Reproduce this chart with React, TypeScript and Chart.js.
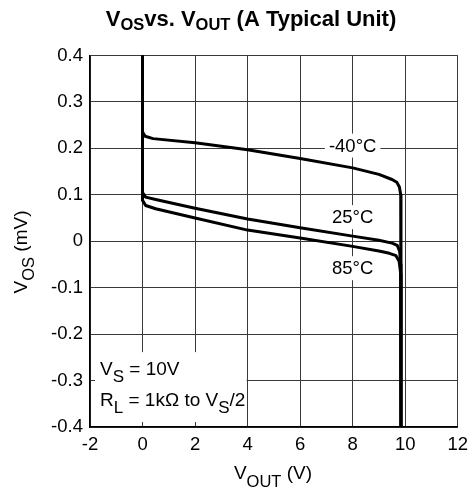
import React, { useEffect, useRef } from "react";
import { Chart, registerables } from "chart.js";

Chart.register(...registerables);

// ---- data ----
const xMin = -2;
const xMax = 12;
const xStep = 2;
const yMin = -0.4;
const yMax = 0.4;
const yStep = 0.1;

const seriesNames = ["-40°C", "25°C", "85°C"];

const vout40 = [0, 0, 0.1, 0.4, 2, 4, 6, 8, 9, 9.5, 9.68, 9.78, 9.83, 9.84];
const vos40 = [0.4, 0.235, 0.226, 0.221, 0.212, 0.197, 0.178, 0.158, 0.144, 0.133, 0.127, 0.117, 0.1, -0.4];

const vout25 = [0, 0, 0.12, 0.5, 2, 4, 6, 8, 9, 9.5, 9.7, 9.79, 9.83, 9.84];
const vos25 = [0.4, 0.105, 0.095, 0.09, 0.071, 0.048, 0.029, 0.011, 0.002, -0.004, -0.009, -0.022, -0.05, -0.4];

const vout85 = [0, 0, 0.12, 0.5, 2, 4, 6, 8, 9, 9.4, 9.65, 9.77, 9.83, 9.84];
const vos85 = [0.4, 0.088, 0.077, 0.07, 0.05, 0.024, 0.007, -0.011, -0.021, -0.026, -0.031, -0.043, -0.07, -0.4];

// label anchor values (data coordinates)
const labelX = [8.0, 8.0, 8.0];
const labelY = [0.206, 0.052, -0.058];

const FONT = "'Liberation Sans', Arial, sans-serif";

type Seg = { t: string; size: number; dy: number; bold?: boolean };

function drawRich(
  ctx: CanvasRenderingContext2D,
  segs: Seg[],
  x: number,
  y: number,
  align: "left" | "center"
) {
  let total = 0;
  const widths = segs.map((s) => {
    ctx.font = `${s.bold ? "bold " : ""}${s.size}px ${FONT}`;
    const w = ctx.measureText(s.t).width;
    total += w;
    return w;
  });
  let cx = align === "center" ? x - total / 2 : x;
  ctx.textBaseline = "alphabetic";
  ctx.textAlign = "left";
  segs.forEach((s, i) => {
    ctx.font = `${s.bold ? "bold " : ""}${s.size}px ${FONT}`;
    ctx.fillText(s.t, cx, y + s.dy);
    cx += widths[i];
  });
}

const decorPlugin = {
  id: "decor",
  beforeDatasetsDraw(chart: any) {
    const { ctx, chartArea, scales } = chart;
    const xs = scales.x;
    const ys = scales.y;
    // condition box
    const left = chartArea.left + 5;
    const right = xs.getPixelForValue(4) - 1;
    const top = ys.getPixelForValue(-0.2) + 18;
    const bottom = chartArea.bottom - 5;
    ctx.save();
    ctx.fillStyle = "#ffffff";
    ctx.fillRect(left, top, right - left, bottom - top);
    ctx.fillStyle = "#000000";
    drawRich(
      ctx,
      [
        { t: "V", size: 19, dy: 0 },
        { t: "S", size: 17, dy: 7 },
        { t: " = 10V", size: 19, dy: 0 },
      ],
      100,
      375,
      "left"
    );
    drawRich(
      ctx,
      [
        { t: "R", size: 19, dy: 0 },
        { t: "L", size: 17, dy: 7 },
        { t: " = 1kΩ to V", size: 19, dy: 0 },
        { t: "S", size: 17, dy: 7 },
        { t: "/2", size: 19, dy: 0 },
      ],
      100,
      406,
      "left"
    );
    ctx.restore();
  },
  afterDatasetsDraw(chart: any) {
    const { ctx, scales } = chart;
    const xs = scales.x;
    const ys = scales.y;
    ctx.save();
    ctx.font = `18.5px ${FONT}`;
    seriesNames.forEach((name, i) => {
      const px = xs.getPixelForValue(labelX[i]);
      const py = ys.getPixelForValue(labelY[i]);
      const w = ctx.measureText(name).width;
      ctx.fillStyle = "#ffffff";
      ctx.fillRect(px - w / 2 - 4, py - 12, w + 8, 24);
      ctx.fillStyle = "#000000";
      ctx.textAlign = "center";
      ctx.textBaseline = "middle";
      ctx.fillText(name, px, py + 1);
    });
    ctx.restore();
  },
  afterDraw(chart: any) {
    const { ctx } = chart;
    ctx.save();
    ctx.fillStyle = "#000000";
    // title
    drawRich(
      ctx,
      [
        { t: "V", size: 22, dy: 0, bold: true },
        { t: "OS", size: 16.5, dy: 4, bold: true },
        { t: "vs. V", size: 22, dy: 0, bold: true },
        { t: "OUT", size: 16.5, dy: 4, bold: true },
        { t: " (A Typical Unit)", size: 22, dy: 0, bold: true },
      ],
      251,
      26,
      "center"
    );
    // x axis title
    drawRich(
      ctx,
      [
        { t: "V", size: 19, dy: 0 },
        { t: "OUT", size: 16.5, dy: 8 },
        { t: " (V)", size: 19, dy: 0 },
      ],
      273,
      479,
      "center"
    );
    // y axis title
    ctx.translate(27, 252);
    ctx.rotate(-Math.PI / 2);
    drawRich(
      ctx,
      [
        { t: "V", size: 19, dy: 0 },
        { t: "OS", size: 16.5, dy: 7 },
        { t: " (mV)", size: 19, dy: 0 },
      ],
      0,
      0,
      "center"
    );
    ctx.restore();
  },
};

function toPoints(xs: number[], ys: number[]) {
  return xs.map((x, i) => ({ x, y: ys[i] }));
}

export default function App() {
  const canvasRef = useRef<HTMLCanvasElement | null>(null);

  useEffect(() => {
    document.body.style.margin = "0";
    const canvas = canvasRef.current;
    if (!canvas) return;
    const lineStyle = {
      borderColor: "#000000",
      backgroundColor: "#000000",
      borderWidth: 3,
      pointRadius: 0,
      tension: 0,
      fill: false,
      borderJoinStyle: "round" as const,
    };
    const chart = new Chart(canvas, {
      type: "line",
      data: {
        datasets: [
          { label: seriesNames[0], data: toPoints(vout40, vos40), ...lineStyle },
          { label: seriesNames[1], data: toPoints(vout25, vos25), ...lineStyle },
          { label: seriesNames[2], data: toPoints(vout85, vos85), ...lineStyle },
        ],
      },
      options: {
        animation: false,
        responsive: true,
        maintainAspectRatio: false,
        layout: { padding: { left: 0, right: 13, top: 55.5, bottom: 0 } },
        plugins: {
          legend: { display: false },
          title: { display: false },
          tooltip: { enabled: false },
        },
        scales: {
          x: {
            type: "linear",
            min: xMin,
            max: xMax,
            ticks: {
              stepSize: xStep,
              color: "#000000",
              font: { family: FONT, size: 18.5 },
              padding: 7,
              maxRotation: 0,
              autoSkip: false,
            },
            grid: { color: "#3a3a3a", lineWidth: 1, drawTicks: false },
            border: { color: "#000000", width: 1.5 },
            afterFit: (scale: any) => {
              scale.height = 65;
            },
          },
          y: {
            type: "linear",
            min: yMin,
            max: yMax,
            ticks: {
              stepSize: yStep,
              color: "#000000",
              font: { family: FONT, size: 18.5 },
              padding: 7,
              autoSkip: false,
              callback: (v: any) => {
                const r = Math.round(Number(v) * 10) / 10;
                return r === 0 ? "0" : r.toFixed(1);
              },
            },
            grid: { color: "#3a3a3a", lineWidth: 1, drawTicks: false },
            border: { color: "#000000", width: 1.5 },
            afterFit: (scale: any) => {
              scale.width = 90;
            },
          },
        },
      },
      plugins: [decorPlugin],
    });
    return () => chart.destroy();
  }, []);

  return (
    <div style={{ width: 475, height: 492, position: "relative" }}>
      <canvas ref={canvasRef} />
    </div>
  );
}
